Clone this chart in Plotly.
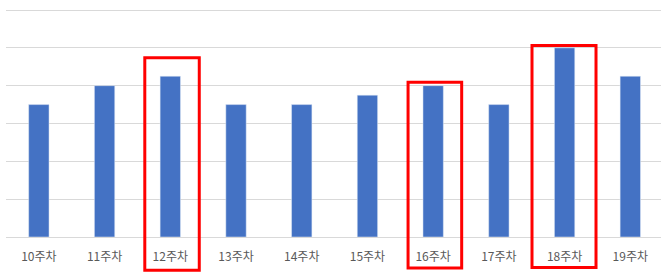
import plotly.graph_objects as go

weeks = ["10주차", "11주차", "12주차", "13주차", "14주차", "15주차", "16주차", "17주차", "18주차", "19주차"]
values = [70, 80, 85, 70, 70, 75, 80, 70, 100, 85]

x_idx = list(range(len(weeks)))

fig = go.Figure()
fig.add_trace(go.Bar(x=x_idx, y=values, marker_color="#4472C4", width=0.31, hoverinfo="skip"))

# red highlight boxes: (index, left offset, right offset, top paper, bottom paper)
boxes = [
    (2, -0.388, 0.441, 0.790, -0.147),
    (6, -0.382, 0.434, 0.682, -0.137),
    (8, -0.496, 0.478, 0.844, -0.134),
]
plot_h = 229
scale = 227 / plot_h
for i, l, r, t, b in boxes:
    fig.add_shape(type="rect", xref="x", yref="paper",
                  x0=i + l, x1=i + r, y0=b * scale, y1=t * scale,
                  line=dict(color="#FF0000", width=3), fillcolor="rgba(0,0,0,0)",
                  layer="above")

fig.update_layout(
    width=661, height=273,
    margin=dict(l=6, r=0, t=273 - 36 - plot_h, b=36),
    paper_bgcolor="white", plot_bgcolor="white",
    showlegend=False,
    font=dict(family="Noto Sans CJK KR", size=12, color="#595959"),
    xaxis=dict(tickmode="array", tickvals=x_idx, ticktext=weeks,
               range=[-0.5, 9.467], showgrid=False, showline=False, zeroline=False,
               ticks="", ticklabelstandoff=11, tickfont=dict(size=12, color="#595959")),
    yaxis=dict(range=[0, 120 * plot_h / 227], tickvals=[0, 20, 40, 60, 80, 100, 120],
               showticklabels=False, showgrid=True,
               gridcolor="#D9D9D9", gridwidth=1, zeroline=True, zerolinecolor="#D9D9D9",
               zerolinewidth=1, showline=False, ticks=""),
)

fig.write_html("out.html")
